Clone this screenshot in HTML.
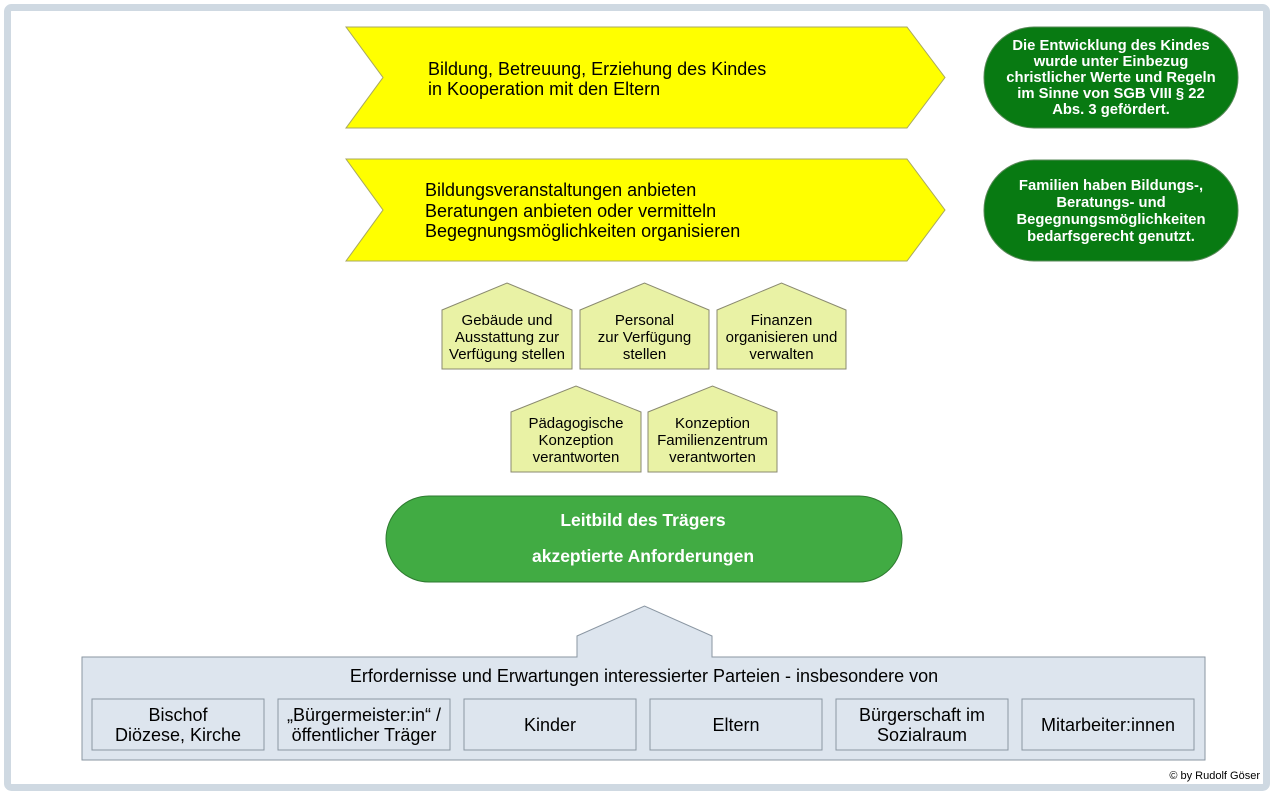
<!DOCTYPE html>
<html><head><meta charset="utf-8"><style>
html,body{margin:0;padding:0;background:#fff}
svg{display:block}
text{font-family:"Liberation Sans",Arial,sans-serif}
</style></head><body>
<svg width="1274" height="796" viewBox="0 0 1274 796" xmlns="http://www.w3.org/2000/svg">
<rect x="7.5" y="7.5" width="1259" height="780" rx="4" fill="#fff" stroke="#cfd9e2" stroke-width="7"/>

<!-- chevrons -->
<polygon points="346,27 907,27 945,77.5 907,128 346,128 383,77.5" fill="#ffff00" stroke="#a8a860" stroke-width="1"/>
<polygon points="346,159 907,159 945,210 907,261 346,261 383,210" fill="#ffff00" stroke="#a8a860" stroke-width="1"/>
<g font-size="18" fill="#000">
<text x="428" y="75">Bildung, Betreuung, Erziehung des Kindes</text>
<text x="428" y="95">in Kooperation mit den Eltern</text>
<text x="425" y="196">Bildungsveranstaltungen anbieten</text>
<text x="425" y="217">Beratungen anbieten oder vermitteln</text>
<text x="425" y="237">Begegnungsmöglichkeiten organisieren</text>
</g>

<!-- green pills -->
<rect x="984" y="27" width="254" height="101" rx="50" fill="#087a12" stroke="#5a8a5a"/>
<rect x="984" y="160" width="254" height="101" rx="50" fill="#087a12" stroke="#5a8a5a"/>
<g font-size="14.8" font-weight="bold" fill="#fff" text-anchor="middle">
<text x="1111" y="50">Die Entwicklung des Kindes</text>
<text x="1111" y="66">wurde unter Einbezug</text>
<text x="1111" y="82">christlicher Werte und Regeln</text>
<text x="1111" y="98">im Sinne von SGB VIII § 22</text>
<text x="1111" y="114">Abs. 3 gefördert.</text>
<text x="1111" y="190">Familien haben Bildungs-,</text>
<text x="1111" y="207">Beratungs- und</text>
<text x="1111" y="224">Begegnungsmöglichkeiten</text>
<text x="1111" y="241">bedarfsgerecht genutzt.</text>
</g>

<!-- houses -->
<g fill="#e9f2a5" stroke="#8a8a70" stroke-width="1">
<polygon points="442,310 507,283 572,310 572,369 442,369"/>
<polygon points="580,310 644.5,283 709,310 709,369 580,369"/>
<polygon points="717,310 781.5,283 846,310 846,369 717,369"/>
<polygon points="511,412 576,386 641,412 641,472 511,472"/>
<polygon points="648,412 712.5,386 777,412 777,472 648,472"/>
</g>
<g font-size="15" fill="#000" text-anchor="middle">
<text x="507" y="325">Gebäude und</text>
<text x="507" y="342">Ausstattung zur</text>
<text x="507" y="359">Verfügung stellen</text>
<text x="644.5" y="325">Personal</text>
<text x="644.5" y="342">zur Verfügung</text>
<text x="644.5" y="359">stellen</text>
<text x="781.5" y="325">Finanzen</text>
<text x="781.5" y="342">organisieren und</text>
<text x="781.5" y="359">verwalten</text>
<text x="576" y="428">Pädagogische</text>
<text x="576" y="445">Konzeption</text>
<text x="576" y="462">verantworten</text>
<text x="712.5" y="428">Konzeption</text>
<text x="712.5" y="445">Familienzentrum</text>
<text x="712.5" y="462">verantworten</text>
</g>

<!-- Leitbild -->
<rect x="386" y="496" width="516" height="86" rx="43" fill="#41ab43" stroke="#2e7a30"/>
<g font-size="17.5" font-weight="bold" fill="#fff" text-anchor="middle">
<text x="643" y="526">Leitbild des Trägers</text>
<text x="643" y="562">akzeptierte Anforderungen</text>
</g>

<!-- bottom -->
<polygon points="82,657 577,657 577,636 644.5,606 712,636 712,657 1205,657 1205,760 82,760" fill="#dde5ee" stroke="#8a96a2"/>
<text x="644" y="682" font-size="18" text-anchor="middle" fill="#000">Erfordernisse und Erwartungen interessierter Parteien - insbesondere von</text>
<g fill="#dde5ee" stroke="#8a96a2">
<rect x="92" y="699" width="172" height="51"/>
<rect x="278" y="699" width="172" height="51"/>
<rect x="464" y="699" width="172" height="51"/>
<rect x="650" y="699" width="172" height="51"/>
<rect x="836" y="699" width="172" height="51"/>
<rect x="1022" y="699" width="172" height="51"/>
</g>
<g font-size="18" fill="#000" text-anchor="middle">
<text x="178" y="721">Bischof</text>
<text x="178" y="741">Diözese, Kirche</text>
<text x="364" y="721">„Bürgermeister:in“ /</text>
<text x="364" y="741">öffentlicher Träger</text>
<text x="550" y="731">Kinder</text>
<text x="736" y="731">Eltern</text>
<text x="922" y="721">Bürgerschaft im</text>
<text x="922" y="741">Sozialraum</text>
<text x="1108" y="731">Mitarbeiter:innen</text>
</g>
<text x="1260" y="779" font-size="11" text-anchor="end" fill="#000">© by Rudolf Göser</text>
</svg>
</body></html>
